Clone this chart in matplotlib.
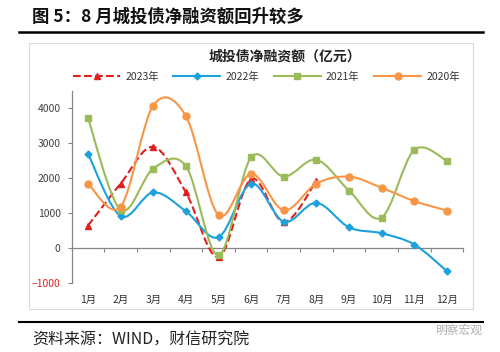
import matplotlib
matplotlib.use("Agg")
import matplotlib.pyplot as plt
from matplotlib.path import Path
from matplotlib.patches import PathPatch, Rectangle
from matplotlib.lines import Line2D

plt.rcParams['font.family'] = ['Noto Sans CJK SC', 'DejaVu Sans']

months = ["1月", "2月", "3月", "4月", "5月", "6月", "7月", "8月", "9月", "10月", "11月", "12月"]
years = ["2023年", "2022年", "2021年", "2020年"]
v2023 = [650, 1850, 2900, 1600, -250, 1980, 750, 1930]
v2022 = [2700, 920, 1600, 1060, 320, 1850, 760, 1300, 600, 430, 110, -650]
v2021 = [3720, 1100, 2280, 2350, -200, 2600, 2050, 2530, 1650, 880, 2810, 2500]
v2020 = [1850, 1190, 4080, 3780, 950, 2130, 1090, 1850, 2050, 1730, 1350, 1080]

colors = ["#E0201E", "#1DA1DC", "#9BBB59", "#F79646"]
markers = ["^", "D", "s", "o"]
msizes = [4.5, 3.5, 4, 5]
styles = ["--", "-", "-", "-"]


def smooth_patch(ys, color, ls):
    # Excel-like smoothed line: cubic bezier through every point
    xs = list(range(len(ys)))
    n = len(ys)
    verts = [(xs[0], ys[0])]
    codes = [Path.MOVETO]
    for i in range(n - 1):
        a = max(i - 1, 0)
        b = min(i + 2, n - 1)
        c1 = (xs[i] + (xs[i + 1] - xs[a]) / 6, ys[i] + (ys[i + 1] - ys[a]) / 6)
        c2 = (xs[i + 1] - (xs[b] - xs[i]) / 6, ys[i + 1] - (ys[b] - ys[i]) / 6)
        verts += [c1, c2, (xs[i + 1], ys[i + 1])]
        codes += [Path.CURVE4] * 3
    return PathPatch(Path(verts, codes), fill=False, edgecolor=color,
                     linewidth=1.5, linestyle=ls, zorder=3)


fig = plt.figure(figsize=(5, 3.52), dpi=100)

# page title and rules
fig.text(0.064, 0.952, "图 5：8 月城投债净融资额回升较多", fontsize=12.5,
         fontweight="bold", va="center", ha="left", color="#111111")
fig.add_artist(Line2D([0.038, 0.966], [0.910, 0.910], color="black", lw=1.8))
fig.add_artist(Line2D([0.038, 0.966], [0.086, 0.086], color="black", lw=1.5))
fig.add_artist(Rectangle((0.058, 0.122), 0.888, 0.756, fill=False,
                         edgecolor="#D9D9D9", lw=0.8))
fig.text(0.064, 0.034, "资料来源：WIND，财信研究院", fontsize=11.5,
         va="center", ha="left", color="#222222", style="italic")
fig.text(0.964, 0.062, "明察宏观", fontsize=8.5, va="center", ha="right",
         color="#B0B0B0")

# inner chart title
fig.text(0.57, 0.838, "城投债净融资额（亿元）", fontsize=10, fontweight="bold",
         va="center", ha="center", color="#222222")

ax = fig.add_axes([0.1434, 0.195, 0.783, 0.547])
ax.set_xlim(-0.5, 11.5)
ax.set_ylim(-1000, 4500)

series = [v2023, v2022, v2021, v2020]
handles = []
for vals, c, m, ms, ls, lab in zip(series, colors, markers, msizes, styles, years):
    ax.add_patch(smooth_patch(vals, c, ls))
    ax.plot(range(len(vals)), vals, linestyle="none", marker=m, markersize=ms,
            color=c, zorder=4)
    handles.append(Line2D([], [], color=c, lw=1.5, linestyle=ls, marker=m,
                          markersize=ms))

fig.legend(handles, years, loc="center", bbox_to_anchor=(0.533, 0.782),
           ncol=4, frameon=False, fontsize=7.5, handlelength=4.5,
           handletextpad=0.5, columnspacing=1.4, labelcolor="#333333")

# y axis
ax.set_yticks([-1000, 0, 1000, 2000, 3000, 4000])
ax.tick_params(axis="y", direction="out", length=3, width=0.8,
               color="#868686", labelsize=7.5, labelcolor="#404040", pad=5)
for t in ax.get_yticklabels():
    if t.get_text().startswith("-") or t.get_text().startswith("\u2212"):
        t.set_color("#E02020")
ax.spines["left"].set_color("#868686")
ax.spines["left"].set_linewidth(0.9)
ax.spines["right"].set_visible(False)
ax.spines["top"].set_visible(False)

# x axis line at zero with category boundary ticks
ax.spines["bottom"].set_position(("data", 0))
ax.spines["bottom"].set_color("#868686")
ax.spines["bottom"].set_linewidth(0.9)
ax.set_xticks([i - 0.5 for i in range(len(months) + 1)])
ax.set_xticklabels([])
ax.tick_params(axis="x", direction="out", length=3, width=0.8, color="#868686")

# month labels at the bottom of the plot
sec = ax.secondary_xaxis(0.0)
sec.set_xticks(range(len(months)))
sec.set_xticklabels(months)
sec.tick_params(length=0, labelsize=7.5, labelcolor="#333333", pad=8)
sec.spines["bottom"].set_visible(False)

fig.savefig("out.png", dpi=100)
